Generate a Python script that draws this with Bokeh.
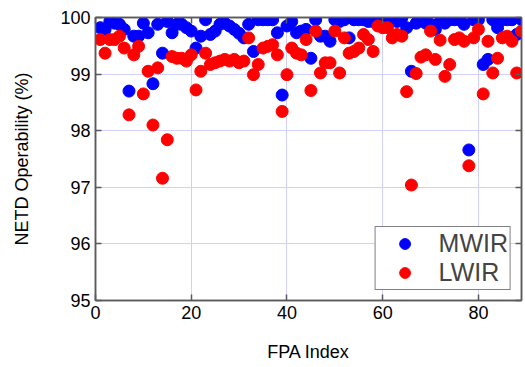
from bokeh.plotting import figure
from bokeh.models import LinearAxis, Range1d, Legend, LegendItem, FixedTicker, ColumnDataSource
from bokeh.embed import file_html
from bokeh.resources import INLINE

fpa_index = list(range(1, 90))
mwir = [99.82, 99.79, 99.93, 99.90, 99.88, 99.79, 98.70, 99.67, 99.67, 99.90,
        99.73, 98.83, 99.88, 99.37, 99.93, 99.73, 99.88, 99.88, 99.82, 99.76,
        99.46, 99.67, 99.96, 99.70, 99.76, 99.88, 99.90, 99.85, 99.79, 99.72,
        99.64, 99.88, 99.40, 99.96, 99.96, 99.96, 99.96, 99.73, 98.63, 99.85,
        99.93, 99.73, 99.76, 99.79, 99.28, 99.96, 99.67, 99.67, 99.58, 99.96,
        99.93, 99.96, 99.64, 99.96, 99.96, 99.96, 99.93, 99.93, 100.0, 99.98,
        99.99, 99.95, 99.93, 99.99, 99.82, 99.05, 99.90, 99.96, 99.90, 99.88,
        99.79, 99.93, 99.90, 99.96, 99.96, 99.96, 99.88, 97.66, 99.96, 99.96,
        99.17, 99.26, 99.96, 99.82, 99.96, 99.96, 99.96, 99.70, 99.96]
lwir = [99.61, 99.37, 99.61, 99.61, 99.67, 99.46, 98.28, 99.34, 99.49, 98.65,
        99.05, 98.10, 99.11, 97.16, 97.84, 99.31, 99.28, 99.28, 99.23, 99.34,
        98.72, 99.05, 99.37, 99.17, 99.20, 99.23, 99.26, 99.23, 99.26, 99.20,
        99.23, 99.64, 98.99, 99.17, 99.46, 99.49, 99.52, 99.34, 98.34, 98.99,
        99.46, 99.37, 99.34, 99.61, 98.71, 99.76, 99.02, 99.20, 99.20, 99.76,
        99.02, 99.64, 99.37, 99.40, 99.46, 99.70, 99.61, 99.40, 99.85, 99.82,
        99.82, 99.64, 99.70, 99.67, 98.69, 97.04, 99.01, 99.30, 99.34, 99.76,
        99.26, 99.60, 98.96, 99.17, 99.61, 99.64, 99.58, 97.38, 99.64, 99.79,
        98.65, 99.58, 99.02, 99.28, 99.64, 99.67, 99.58, 99.02, 99.76]
x_ticks = [0, 20, 40, 60, 80]
y_ticks = [95, 96, 97, 98, 99, 100]

FONT = "Liberation Sans"
AX = "#5a5a5a"

src = ColumnDataSource(dict(x=fpa_index, mwir=mwir, lwir=lwir))

p = figure(frame_width=426, frame_height=283,
           x_range=Range1d(0, 89), y_range=Range1d(95, 100),
           output_backend="svg", toolbar_location=None,
           min_border_left=95, min_border_right=2, min_border_top=17, min_border_bottom=55)

p.background_fill_color = "white"
p.border_fill_color = "white"
p.outline_line_color = AX
p.outline_line_width = 1.5

p.xgrid.ticker = FixedTicker(ticks=x_ticks)
p.ygrid.ticker = FixedTicker(ticks=y_ticks)
p.grid.grid_line_color = "#d0d0fa"
p.grid.grid_line_width = 1

for ax in (p.xaxis[0], p.yaxis[0]):
    ax.axis_line_color = AX
    ax.axis_line_width = 1.5
    ax.major_tick_line_color = AX
    ax.major_tick_line_width = 1.5
    ax.major_tick_in = 6
    ax.major_tick_out = 0
    ax.minor_tick_line_color = None
    ax.major_label_text_font = FONT
    ax.major_label_text_font_size = "18px"
    ax.major_label_text_color = "black"
    ax.major_label_standoff = 5
    ax.axis_label_text_font = FONT
    ax.axis_label_text_font_size = "18px"
    ax.axis_label_text_font_style = "normal"
    ax.axis_label_text_color = "black"

p.xaxis.ticker = FixedTicker(ticks=x_ticks)
p.yaxis.ticker = FixedTicker(ticks=y_ticks)
p.xaxis.axis_label = "FPA Index"
p.yaxis.axis_label = "NETD Operability (%)"
p.xaxis.axis_label_standoff = 20
p.yaxis.axis_label_standoff = 25

for loc, ticks in (("above", x_ticks), ("right", y_ticks)):
    a = LinearAxis(ticker=FixedTicker(ticks=ticks),
                   axis_line_color=AX, axis_line_width=1.5,
                   major_tick_line_color=AX, major_tick_line_width=1.5,
                   major_tick_in=6, major_tick_out=0,
                   minor_tick_line_color=None,
                   major_label_text_font_size="0px", major_label_standoff=0,
                   major_label_text_color=None)
    p.add_layout(a, loc)

rb = p.scatter("x", "mwir", source=src, size=12, fill_color="#0000ff", line_color="#0000ff")
rr = p.scatter("x", "lwir", source=src, size=12, fill_color="#ff0000", line_color="#ff0000")

legend = Legend(items=[LegendItem(label="MWIR", renderers=[rb]),
                       LegendItem(label="LWIR", renderers=[rr])],
                location="bottom_right", margin=10, padding=2, spacing=0,
                glyph_height=27, glyph_width=54, label_standoff=7,
                label_text_font=FONT, label_text_font_size="25px",
                border_line_color="black", border_line_width=1,
                background_fill_color="white", background_fill_alpha=1)
p.add_layout(legend)

open("out.html", "w").write(file_html(p, INLINE))
